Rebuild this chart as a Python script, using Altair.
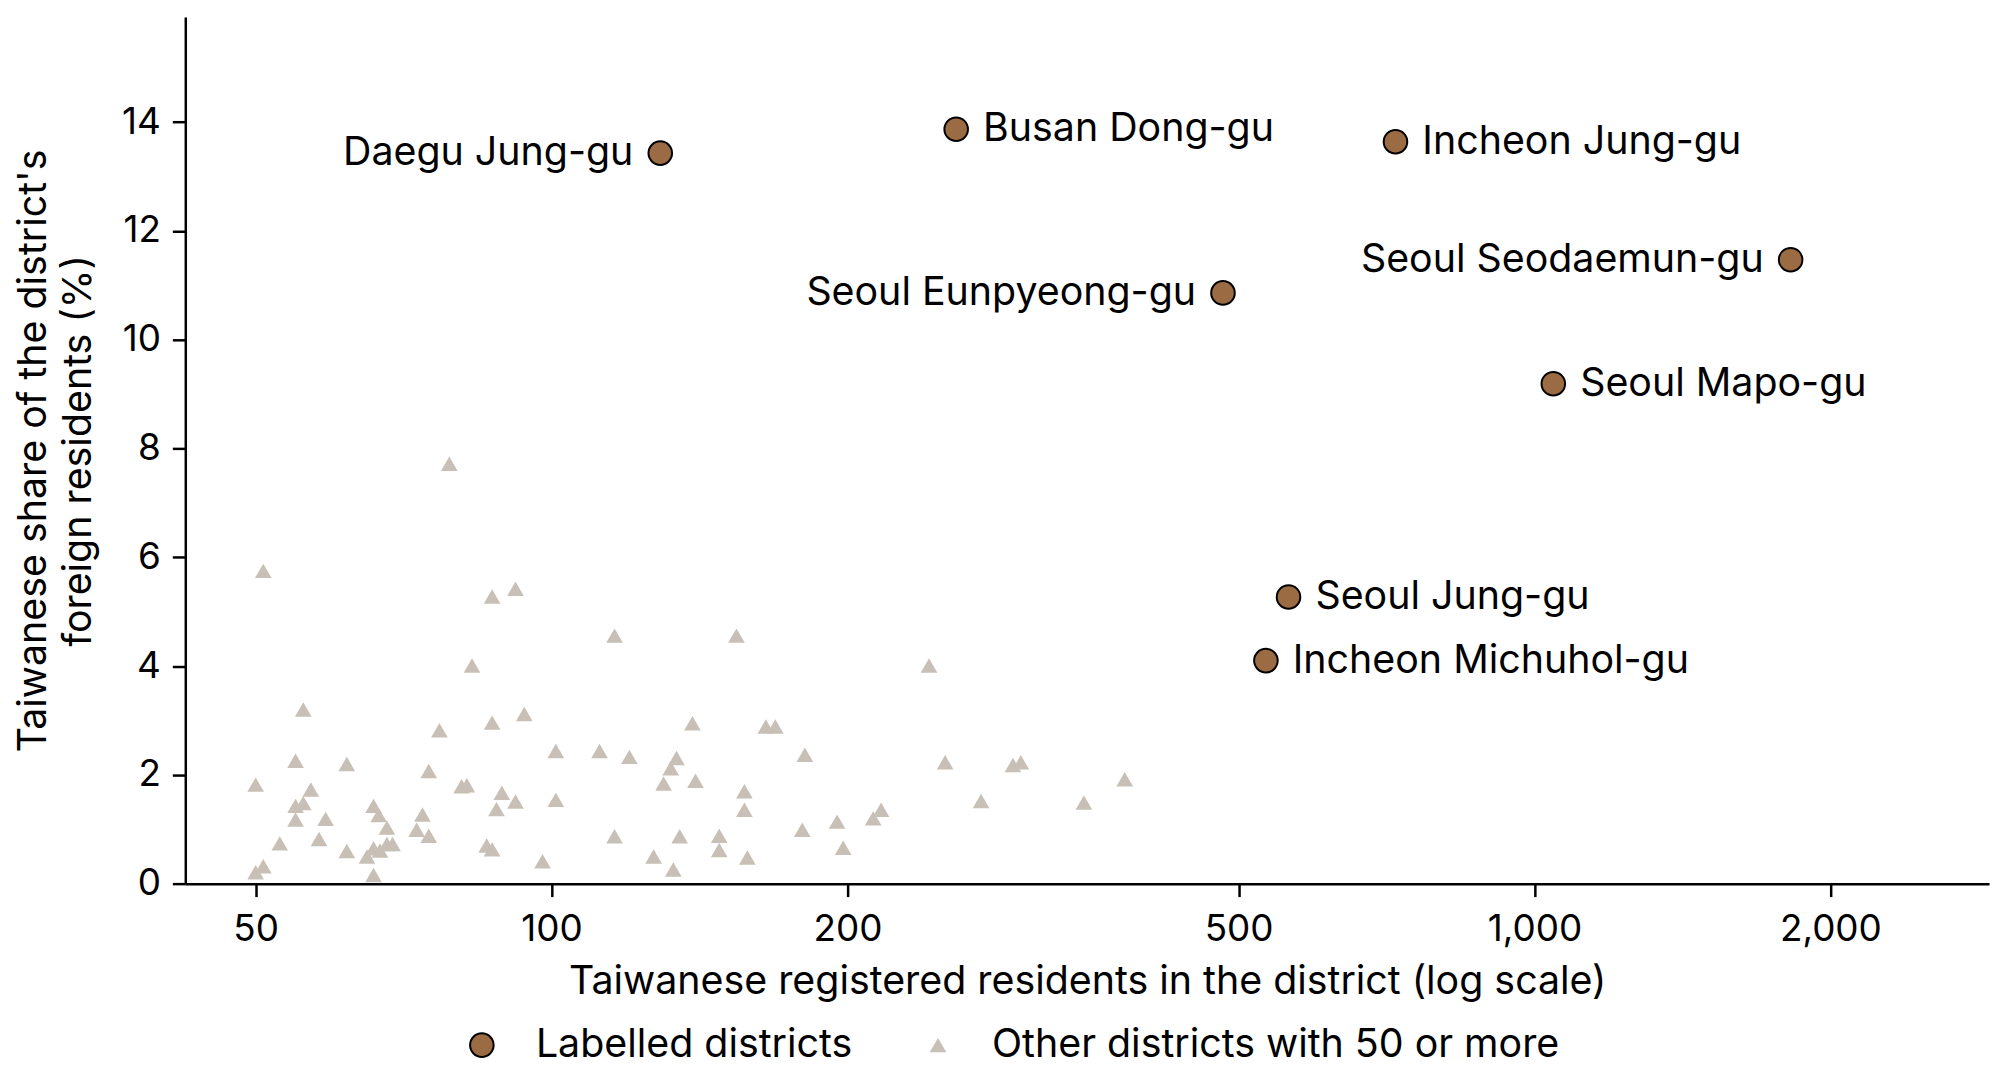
import altair as alt
import pandas as pd

# Labelled districts
lab_names = ["Daegu Jung-gu", "Busan Dong-gu", "Incheon Jung-gu", "Seoul Seodaemun-gu",
             "Seoul Eunpyeong-gu", "Seoul Mapo-gu", "Seoul Jung-gu", "Incheon Michuhol-gu"]
lab_residents = [129, 258, 722, 1822, 482, 1045, 562, 533]
lab_share = [13.43, 13.87, 13.64, 11.47, 10.86, 9.19, 5.27, 4.1]
lab_side = ["left", "right", "right", "left", "left", "right", "right", "right"]

# Other districts with 50 or more Taiwanese residents
oth_residents = [50.9, 87.0, 91.9, 83.0, 55.9, 76.9, 87.0, 93.8, 54.9, 61.9,
                 50.0, 75.0, 81.0, 82.0, 56.9, 55.9, 54.9, 54.9, 58.9, 52.9,
                 58.0, 50.9, 50.0, 61.9, 65.9, 66.7, 68.0, 64.9, 65.9, 66.9,
                 68.0, 68.9, 65.9, 73.9, 72.9, 75.0, 89.0, 91.9, 87.9, 85.9,
                 87.0, 97.9, 78.7,
                 115.9, 154.2, 101.0, 111.9, 120.0, 139.1, 165.2, 168.9, 181.0, 134.0,
                 132.2, 130.0, 140.1, 101.0, 157.1, 157.1, 115.9, 135.0, 148.1, 148.1,
                 179.9, 195.2, 198.0, 127.0, 133.0, 158.2,
                 242.1, 251.4, 294.7, 300.2, 273.5, 348.0, 382.9, 212.4, 216.4]
oth_share = [5.75, 5.28, 5.42, 4.01, 3.20, 2.82, 2.96, 3.12, 2.26, 2.20,
             1.82, 2.07, 1.79, 1.81, 1.73, 1.48, 1.43, 1.18, 1.19, 0.74,
             0.82, 0.32, 0.21, 0.60, 1.43, 1.26, 1.03, 0.50, 0.65, 0.61,
             0.73, 0.73, 0.16, 1.27, 0.99, 0.88, 1.67, 1.51, 1.37, 0.70,
             0.63, 0.41, 7.72,
             4.56, 4.56, 2.44, 2.44, 2.33, 2.95, 2.89, 2.89, 2.37, 2.31,
             2.12, 1.84, 1.89, 1.54, 1.70, 1.36, 0.87, 0.87, 0.88, 0.62,
             0.99, 1.14, 0.66, 0.50, 0.26, 0.48,
             4.01, 2.23, 2.18, 2.23, 1.52, 1.49, 1.92, 1.20, 1.36]

groups = ["Labelled districts", "Other districts with 50 or more"]

others = pd.DataFrame({"name": "", "residents": oth_residents, "share": oth_share,
                       "side": "", "group": groups[1]})
labelled = pd.DataFrame({"name": lab_names, "residents": lab_residents, "share": lab_share,
                         "side": lab_side, "group": groups[0]})
# triangles first so the circles sit on top
df = pd.concat([others, labelled], ignore_index=True)

FONT = "Inter"
FS = 39.5       # titles, point labels, legend
FS_TICK = 37    # tick labels

x_enc = alt.X("residents:Q",
              scale=alt.Scale(type="log", domain=[42.4, 2900], nice=False),
              axis=alt.Axis(values=[50, 100, 200, 500, 1000, 2000], format=",",
                            title="Taiwanese registered residents in the district (log scale)"))
y_enc = alt.Y("share:Q",
              scale=alt.Scale(domain=[0, 15.93], nice=False),
              axis=alt.Axis(values=[0, 2, 4, 6, 8, 10, 12, 14],
                            title=["Taiwanese share of the district's", "foreign residents (%)"]))

legend = alt.Legend(orient="none", legendX=278, legendY=1012, direction="horizontal",
                    labelFont=FONT, labelFontSize=FS, labelColor="black", labelLimit=1000,
                    labelOffset=34.5, columnPadding=66, padding=0)

points = alt.Chart(df).mark_point(filled=True, opacity=1).encode(
    x=x_enc,
    y=y_enc,
    shape=alt.Shape("group:N", title=None, legend=legend,
                    scale=alt.Scale(domain=groups, range=["circle", "triangle-up"])),
    color=alt.Color("group:N", title=None, legend=legend,
                    scale=alt.Scale(domain=groups, range=["#9b6b43", "#c8bfb6"])),
    size=alt.Size("group:N", title=None, legend=legend,
                  scale=alt.Scale(domain=groups, range=[560, 280])),
    strokeWidth=alt.StrokeWidth("group:N", title=None, legend=legend,
                                scale=alt.Scale(domain=groups, range=[2, 0])),
    stroke=alt.value("black"),
)

text_right = alt.Chart(labelled).transform_filter(alt.datum.side == "right").mark_text(
    align="left", baseline="middle", dx=27, font=FONT, fontSize=FS, color="black"
).encode(x="residents:Q", y="share:Q", text="name:N")

text_left = alt.Chart(labelled).transform_filter(alt.datum.side == "left").mark_text(
    align="right", baseline="middle", dx=-27, font=FONT, fontSize=FS, color="black"
).encode(x="residents:Q", y="share:Q", text="name:N")

chart = alt.layer(points, text_right, text_left).properties(
    width=1811, height=870,
    autosize=alt.AutoSizeParams(type="none"),
    padding={"left": 178, "top": 7, "right": 10, "bottom": 196},
).configure_view(
    strokeWidth=0
).configure_axis(
    grid=False,
    domainColor="black", domainWidth=2.5,
    tickColor="black", tickWidth=2.5, tickSize=13,
    labelFont=FONT, labelFontSize=FS_TICK, labelColor="black",
    titleFont=FONT, titleFontSize=FS, titleColor="black", titleFontWeight="normal",
).configure_axisX(
    labelPadding=15, titlePadding=15,
).configure_axisY(
    labelPadding=12, titlePadding=23, titleLineHeight=45,
)

chart.save("out.html", embed_options={"renderer": "svg", "actions": False})
